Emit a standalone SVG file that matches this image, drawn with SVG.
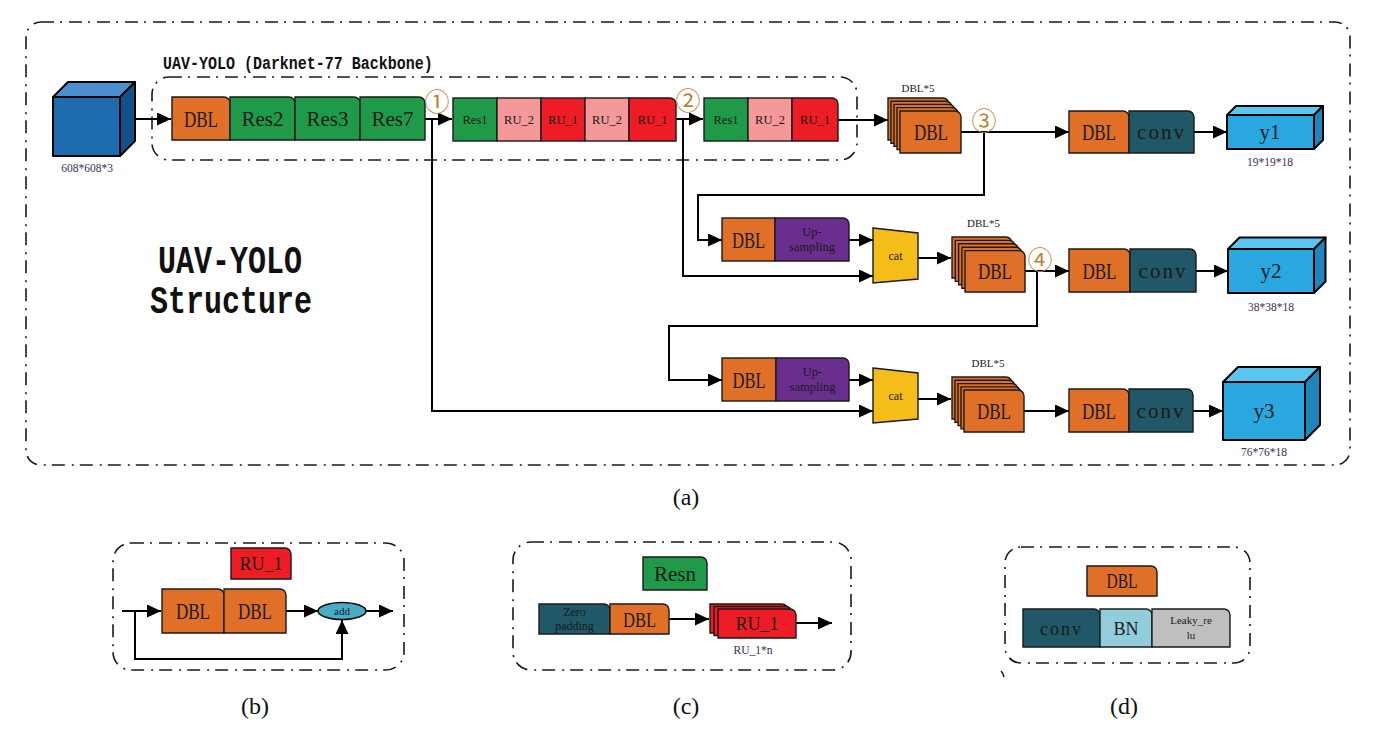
<svg xmlns="http://www.w3.org/2000/svg" width="1374" height="734" viewBox="0 0 1374 734">
<style>
.blk{stroke:#1a1a1a;stroke-width:1.4}
.dbl{fill:#e07027}.res{fill:#1f9a48}.ru2{fill:#f4989a}.ru1{fill:#ee1c25}
.conv{fill:#215868}.up{fill:#6a2f8e}.cat{fill:#f5bd19}.bn{fill:#92cddc}.lr{fill:#bfbfbf}
.t{font-family:"Liberation Serif",serif;fill:#1a1a1a;text-anchor:middle}
.big{font-size:21px}.mid{font-size:18px}.sm{font-size:12.5px}.xs{font-size:11px}
.frame{fill:none;stroke:#1a1a1a;stroke-width:1.6;stroke-dasharray:13 6 2 7}
.ln{fill:none;stroke:#000;stroke-width:2}
.arr{marker-end:url(#ah)}
.num{font-family:"Noto Sans CJK SC","DejaVu Sans",sans-serif;font-size:25px;fill:#b9843a;text-anchor:middle}
.dim{font-family:"Liberation Serif",serif;font-size:11.5px;fill:#3a2d5c;text-anchor:middle}
.cub{stroke:#000;stroke-width:2;stroke-linejoin:round}
.cap{font-family:"Liberation Serif",serif;font-size:24px;fill:#111;text-anchor:middle}
.mono{font-family:"Liberation Mono",monospace;font-weight:bold;fill:#111}
</style>
<defs>
<marker id="ah" markerUnits="userSpaceOnUse" markerWidth="15" markerHeight="13" refX="14" refY="6.5" orient="auto">
<path d="M0,0 L14,6.5 L0,13 Z" fill="#000"/>
</marker>
</defs>

<!-- frames -->
<g id="frames">
<rect class="frame" x="26" y="22" width="1324" height="443" rx="15"/>
<rect class="frame" x="152" y="77" width="705" height="83" rx="17"/>
<rect class="frame" x="113" y="543" width="291" height="127" rx="18"/>
<rect class="frame" x="513" y="542" width="338" height="128" rx="18"/>
<rect class="frame" x="1005" y="547" width="245" height="116" rx="16"/>
<path d="M1001 671 Q1003 673 1004 677" fill="none" stroke="#1a1a1a" stroke-width="1.6"/>
</g>

<g id="titles">
<text class="mono" transform="translate(163 69) scale(1 1.2)" font-size="15">UAV-YOLO (Darknet-77 Backbone)</text>
<text class="mono" transform="translate(158 273) scale(1 1.3)" font-size="30">UAV-YOLO</text>
<text class="mono" transform="translate(150 313) scale(1 1.3)" font-size="30">Structure</text>
<text class="cap" x="686" y="505">(a)</text>
<text class="cap" x="255" y="714">(b)</text>
<text class="cap" x="686" y="714">(c)</text>
<text class="cap" x="1124" y="714">(d)</text>
</g>

<!-- connectors -->
<g id="connectors">
<path class="ln arr" d="M120 119 H171"/>
<path class="ln arr" d="M425 119 H452"/>
<path class="ln arr" d="M676 119 H703"/>
<path class="ln arr" d="M838 120 H888"/>
<path class="ln arr" d="M432 119 V411 H873"/>
<path class="ln arr" d="M683 119 V276 H873"/>
<path class="ln arr" d="M961 132 H1069"/>
<path class="ln arr" d="M984 132 V195 H698 V240 H722"/>
<path class="ln arr" d="M1194 132 H1227"/>
<path class="ln arr" d="M849 240 H873"/>
<path class="ln arr" d="M918 258 H951"/>
<path class="ln arr" d="M1025 271 H1069"/>
<path class="ln arr" d="M1037 271 V326 H669 V380 H722"/>
<path class="ln arr" d="M1196 271 H1228"/>
<path class="ln arr" d="M849 380 H873"/>
<path class="ln arr" d="M918 399 H951"/>
<path class="ln arr" d="M1024 411 H1069"/>
<path class="ln arr" d="M1193 411 H1223"/>
<!-- (b) -->
<path class="ln arr" d="M122 611 H161"/>
<path class="ln arr" d="M135 611 V659 H342 V620"/>
<path class="ln arr" d="M286 611 H318"/>
<path class="ln arr" d="M366 611 H393"/>
<!-- (c) -->
<path class="ln arr" d="M669 619 H709"/>
<path class="ln arr" d="M796 623 H832"/>
</g>

<!-- input cube -->
<g id="input">
<path class="cub" fill="#4a8fcf" d="M53 97 L68 82 H135 L120 97 Z"/>
<path class="cub" fill="#12508a" d="M120 97 L135 82 V141 L120 156 Z"/>
<rect class="cub" fill="#1e6bb0" x="53" y="97" width="67" height="59"/>
<text class="dim" x="87" y="172" fill="#2a3f6e">608*608*3</text>
</g>

<!-- backbone group 1 -->
<g id="bb1">
<path class="blk dbl" d="M172 97 H224 A6 6 0 0 1 230 103 V140 H172 Z"/>
<text class="t" font-size="23" x="201" y="127" textLength="34" lengthAdjust="spacingAndGlyphs">DBL</text>
<path class="blk res" d="M230 97 H289 A6 6 0 0 1 295 103 V140 H230 Z"/>
<text class="t big" x="262.5" y="126">Res2</text>
<path class="blk res" d="M295 97 H354 A6 6 0 0 1 360 103 V140 H295 Z"/>
<text class="t big" x="327.5" y="126">Res3</text>
<path class="blk res" d="M360 97 H419 A6 6 0 0 1 425 103 V140 H360 Z"/>
<text class="t big" x="392.5" y="126">Res7</text>
</g>
<g id="bb2">
<rect class="blk res" x="453" y="98" width="44" height="43"/>
<text class="t sm" x="475" y="124">Res1</text>
<rect class="blk ru2" x="497" y="98" width="44" height="43"/>
<text class="t sm" x="519" y="124">RU_2</text>
<rect class="blk ru1" x="541" y="98" width="44" height="43"/>
<text class="t sm" x="563" y="124">RU_1</text>
<rect class="blk ru2" x="585" y="98" width="44" height="43"/>
<text class="t sm" x="607" y="124">RU_2</text>
<path class="blk ru1" d="M629 98 H670 A6 6 0 0 1 676 104 V141 H629 Z"/>
<text class="t sm" x="652.5" y="124">RU_1</text>
</g>
<g id="bb3">
<rect class="blk res" x="704" y="98" width="44" height="43"/>
<text class="t sm" x="726" y="124">Res1</text>
<rect class="blk ru2" x="748" y="98" width="44" height="43"/>
<text class="t sm" x="770" y="124">RU_2</text>
<path class="blk ru1" d="M792 98 H832 A6 6 0 0 1 838 104 V141 H792 Z"/>
<text class="t sm" x="815" y="124">RU_1</text>
</g>

<g id="marks">
<text class="num" x="437" y="111">①</text>
<text class="num" x="688" y="110">②</text>
<text class="num" x="984" y="130">③</text>
<text class="num" x="1040" y="269">④</text>
</g>

<!-- stack 1 -->
<g id="stack1">
<text class="t xs" x="918" y="92">DBL*5</text>
<path class="blk dbl" d="M888 98 H943 A6 6 0 0 1 949 104 V140 H888 Z"/>
<path class="blk dbl" d="M891 101.2 H946 A6 6 0 0 1 952 107.2 V143.2 H891 Z"/>
<path class="blk dbl" d="M894 104.4 H949 A6 6 0 0 1 955 110.4 V146.4 H894 Z"/>
<path class="blk dbl" d="M897 107.6 H952 A6 6 0 0 1 958 113.6 V149.6 H897 Z"/>
<path class="blk dbl" d="M900 111 H955 A6 6 0 0 1 961 117 V153 H900 Z"/>
<text class="t" font-size="23" x="931" y="140" textLength="34" lengthAdjust="spacingAndGlyphs">DBL</text>
</g>
<g id="head1">
<path class="blk dbl" d="M1069 111 H1123 A6 6 0 0 1 1129 117 V153 H1069 Z"/>
<text class="t" font-size="23" x="1099" y="140" textLength="34" lengthAdjust="spacingAndGlyphs">DBL</text>
<path class="blk conv" d="M1129 111 H1188 A6 6 0 0 1 1194 117 V153 H1129 Z"/>
<text class="t big" x="1161.5" y="139" letter-spacing="2">conv</text>
</g>
<g id="y1">
<path class="cub" fill="#5bc6ef" d="M1227 115 L1236 106 H1323 L1314 115 Z"/>
<path class="cub" fill="#1e86bc" d="M1314 115 L1323 106 V140 L1314 149 Z"/>
<rect class="cub" fill="#29a8e0" x="1227" y="115" width="87" height="34"/>
<text class="t big" x="1270" y="139">y1</text>
<text class="dim" x="1270" y="166">19*19*18</text>
</g>

<!-- middle row -->
<g id="up1">
<rect class="blk dbl" x="722" y="218" width="53" height="43"/>
<text class="t" font-size="23" x="748.5" y="248" textLength="33" lengthAdjust="spacingAndGlyphs">DBL</text>
<path class="blk up" d="M775 218 H843 A6 6 0 0 1 849 224 V261 H775 Z"/>
<text class="t sm" x="812" y="236" fill="#2b2233">Up-</text>
<text class="t sm" x="812" y="251" fill="#2b2233">sampling</text>
</g>
<g id="cat1">
<path class="blk cat" d="M873 228 L918 233 V279 L873 283 Z"/>
<text class="t" font-size="12" x="895.5" y="260">cat</text>
</g>
<g id="stack2">
<text class="t xs" x="983.5" y="227">DBL*5</text>
<path class="blk dbl" d="M952 237 H1006 A6 6 0 0 1 1012 243 V278 H952 Z"/>
<path class="blk dbl" d="M955.3 240.4 H1009.3 A6 6 0 0 1 1015.3 246.4 V281.4 H955.3 Z"/>
<path class="blk dbl" d="M958.6 243.8 H1012.6 A6 6 0 0 1 1018.6 249.8 V284.8 H958.6 Z"/>
<path class="blk dbl" d="M961.9 247.2 H1015.9 A6 6 0 0 1 1021.9 253.2 V288.2 H961.9 Z"/>
<path class="blk dbl" d="M965 250.6 H1019 A6 6 0 0 1 1025 256.6 V292 H965 Z"/>
<text class="t" font-size="23" x="995" y="279" textLength="34" lengthAdjust="spacingAndGlyphs">DBL</text>
</g>
<g id="head2">
<path class="blk dbl" d="M1069 249 H1124 A6 6 0 0 1 1130 255 V292 H1069 Z"/>
<text class="t" font-size="23" x="1099.5" y="279" textLength="34" lengthAdjust="spacingAndGlyphs">DBL</text>
<path class="blk conv" d="M1130 249 H1190 A6 6 0 0 1 1196 255 V292 H1130 Z"/>
<text class="t big" x="1163" y="278" letter-spacing="2">conv</text>
</g>
<g id="y2">
<path class="cub" fill="#5bc6ef" d="M1228 249 L1239.5 237.5 H1325.5 L1314 249 Z"/>
<path class="cub" fill="#1e86bc" d="M1314 249 L1325.5 237.5 V281.5 L1314 293 Z"/>
<rect class="cub" fill="#29a8e0" x="1228" y="249" width="86" height="44"/>
<text class="t big" x="1271" y="278">y2</text>
<text class="dim" x="1271" y="311">38*38*18</text>
</g>

<!-- bottom row -->
<g id="up2">
<rect class="blk dbl" x="722" y="358" width="54" height="43"/>
<text class="t" font-size="23" x="749" y="388" textLength="33" lengthAdjust="spacingAndGlyphs">DBL</text>
<path class="blk up" d="M776 358 H843 A6 6 0 0 1 849 364 V401 H776 Z"/>
<text class="t sm" x="812.5" y="376" fill="#2b2233">Up-</text>
<text class="t sm" x="812.5" y="391" fill="#2b2233">sampling</text>
</g>
<g id="cat2">
<path class="blk cat" d="M873 368 L918 373 V419 L873 423 Z"/>
<text class="t" font-size="12" x="895.5" y="400">cat</text>
</g>
<g id="stack3">
<text class="t xs" x="988" y="367">DBL*5</text>
<path class="blk dbl" d="M952 377 H1006 A6 6 0 0 1 1012 383 V419 H952 Z"/>
<path class="blk dbl" d="M955 380.3 H1009 A6 6 0 0 1 1015 386.3 V422.3 H955 Z"/>
<path class="blk dbl" d="M958 383.6 H1012 A6 6 0 0 1 1018 389.6 V425.6 H958 Z"/>
<path class="blk dbl" d="M961 386.9 H1015 A6 6 0 0 1 1021 392.9 V428.9 H961 Z"/>
<path class="blk dbl" d="M964 390 H1018 A6 6 0 0 1 1024 396 V432 H964 Z"/>
<text class="t" font-size="23" x="994" y="419" textLength="34" lengthAdjust="spacingAndGlyphs">DBL</text>
</g>
<g id="head3">
<path class="blk dbl" d="M1069 389 H1123 A6 6 0 0 1 1129 395 V432 H1069 Z"/>
<text class="t" font-size="23" x="1099" y="419" textLength="34" lengthAdjust="spacingAndGlyphs">DBL</text>
<path class="blk conv" d="M1129 389 H1187 A6 6 0 0 1 1193 395 V432 H1129 Z"/>
<text class="t big" x="1161" y="418" letter-spacing="2">conv</text>
</g>
<g id="y3">
<path class="cub" fill="#5bc6ef" d="M1223 382 L1238 367 H1320 L1305 382 Z"/>
<path class="cub" fill="#1e86bc" d="M1305 382 L1320 367 V425 L1305 440 Z"/>
<rect class="cub" fill="#29a8e0" x="1223" y="382" width="82" height="58"/>
<text class="t big" x="1264" y="418">y3</text>
<text class="dim" x="1264" y="456">76*76*18</text>
</g>

<!-- (b) RU_1 -->
<g id="ru1-detail">
<path class="blk ru1" d="M231 548 H285 A6 6 0 0 1 291 554 V579 H231 Z"/>
<text class="t mid" x="261" y="570">RU_1</text>
<path class="blk dbl" d="M162 589 H218 A6 6 0 0 1 224 595 V633 H162 Z"/>
<text class="t" font-size="23" x="193" y="619" textLength="34" lengthAdjust="spacingAndGlyphs">DBL</text>
<path class="blk dbl" d="M224 589 H280 A6 6 0 0 1 286 595 V633 H224 Z"/>
<text class="t" font-size="23" x="255" y="619" textLength="34" lengthAdjust="spacingAndGlyphs">DBL</text>
<ellipse cx="342" cy="611" rx="24" ry="8.5" fill="#4bacc6" stroke="#111" stroke-width="1.6"/>
<text class="t xs" x="342" y="615" fill="#1a2a4a">add</text>
</g>

<!-- (c) Resn -->
<g id="resn-detail">
<path class="blk res" d="M643 557 H701 A6 6 0 0 1 707 563 V590 H643 Z"/>
<text class="t big" x="675" y="581">Resn</text>
<path class="blk conv" d="M539 604 H604 A6 6 0 0 1 610 610 V634 H539 Z"/>
<text class="t" font-size="12" x="574.5" y="616" fill="#1a1a1a">Zero</text>
<text class="t" font-size="12" x="574.5" y="630" fill="#1a1a1a">padding</text>
<path class="blk dbl" d="M610 604 H663 A6 6 0 0 1 669 610 V634 H610 Z"/>
<text class="t" font-size="22" x="639.5" y="627" textLength="33" lengthAdjust="spacingAndGlyphs">DBL</text>
<path class="blk ru1" d="M710 604 H782 A6 6 0 0 1 788 610 V633 H710 Z"/>
<path class="blk ru1" d="M714 606.5 H786 A6 6 0 0 1 792 612.5 V635.5 H714 Z"/>
<path class="blk ru1" d="M718 609 H790 A6 6 0 0 1 796 615 V638 H718 Z"/>
<text class="t mid" x="757" y="630">RU_1</text>
<text class="dim" x="753" y="654" fill="#2a3f6e">RU_1*n</text>
</g>

<!-- (d) DBL -->
<g id="dbl-detail">
<path class="blk dbl" d="M1087 566 H1151 A6 6 0 0 1 1157 572 V596 H1087 Z"/>
<text class="t" font-size="20" x="1122" y="588" textLength="31" lengthAdjust="spacingAndGlyphs">DBL</text>
<path class="blk conv" d="M1023 609 H1094 A6 6 0 0 1 1100 615 V647 H1023 Z"/>
<text class="t mid" x="1061.5" y="635" letter-spacing="2">conv</text>
<path class="blk bn" d="M1100 609 H1146 A6 6 0 0 1 1152 615 V647 H1100 Z"/>
<text class="t mid" x="1126" y="635">BN</text>
<path class="blk lr" d="M1152 609 H1224 A6 6 0 0 1 1230 615 V647 H1152 Z"/>
<text class="t xs" x="1191" y="624">Leaky_re</text>
<text class="t xs" x="1191" y="639">lu</text>
</g>
</svg>
